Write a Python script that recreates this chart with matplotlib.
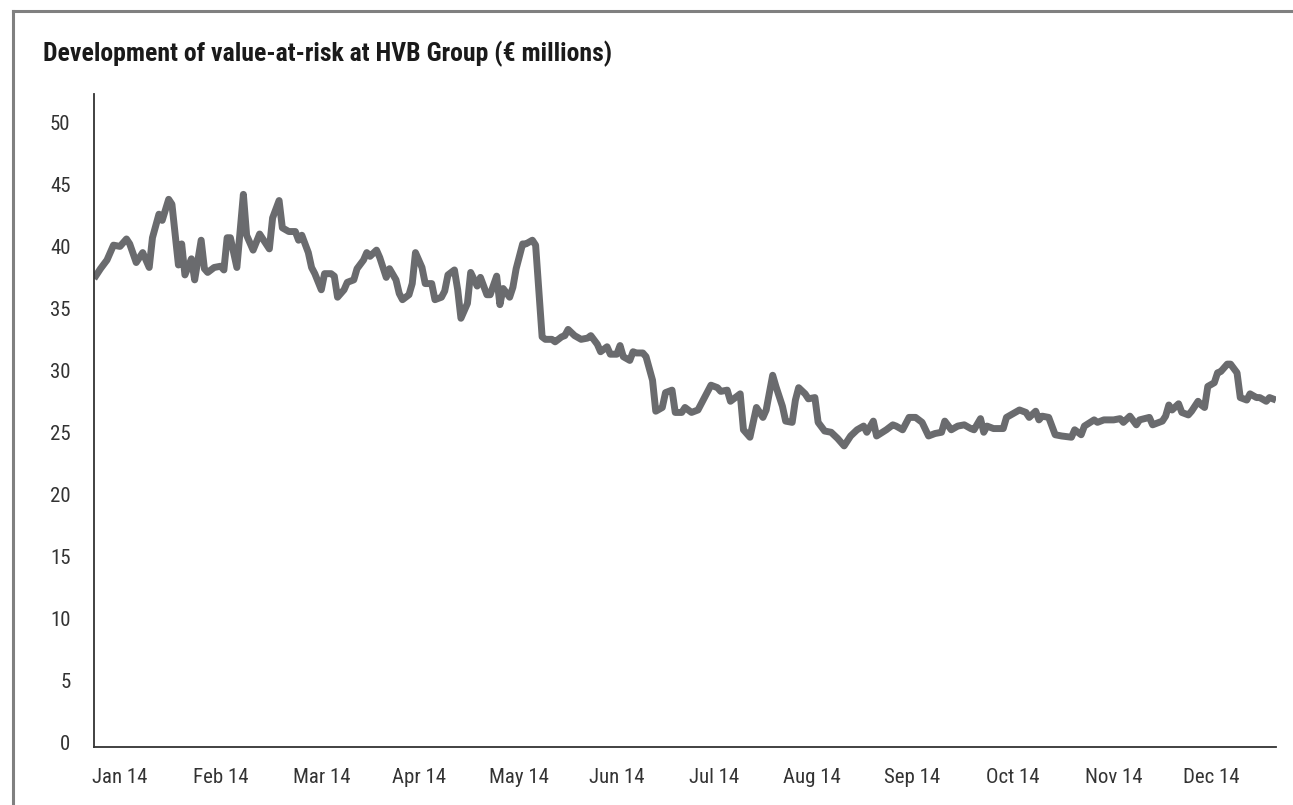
#!/usr/bin/env python3
# -*- coding: utf-8 -*-

"""
Value-at-risk development at HVB Group, 2014 (EUR millions)
"""

import matplotlib
matplotlib.use("Agg")
import matplotlib.pyplot as plt
from matplotlib.lines import Line2D
from matplotlib import font_manager

# calendar day of 2014 (0 = 2 Jan) for each reading
day = [0, 2, 4, 6, 8, 10, 11, 13, 15, 17, 18, 20, 21, 23, 24, 26, 27, 28, 30, 31,
       33, 34, 35, 37, 39, 40, 41, 42, 44, 46, 47, 49, 51, 54, 55, 57, 58, 60, 62, 63,
       64, 66, 67, 68, 70, 71, 73, 74, 75, 77, 78, 80, 81, 83, 84, 85, 87, 88, 90, 91,
       93, 94, 95, 97, 98, 99, 101, 102, 104, 105, 107, 108, 109, 111, 112, 113, 115, 116, 118, 119,
       121, 122, 124, 125, 126, 128, 129, 130, 132, 133, 135, 136, 138,
       139, 141, 142, 144, 145, 146, 148, 150, 152, 153, 155, 156, 158, 159, 161, 162, 163, 165, 166, 167,
       169, 170, 172, 173, 175, 176, 178, 179, 181, 182, 184, 186, 188, 190, 192, 193, 195, 196, 198, 199,
       200, 202, 204, 206, 207, 209, 210, 212, 213, 215, 216, 217, 219, 220, 222, 223, 225, 227, 229, 231,
       233, 235, 237, 238, 240, 241, 244, 246, 247, 249, 251, 253, 255, 257, 259, 261, 262, 264, 266, 268,
       270, 271, 273, 274, 275, 277, 280, 281, 283, 285,
       287, 288, 290, 291, 292, 294, 296, 298, 301, 302, 304, 305, 308, 309, 311, 314, 316, 317, 319, 321,
       322, 325, 326, 329, 330, 331, 332, 334, 335, 337, 338, 340, 341, 342, 343, 345, 346, 347, 349, 350,
       352, 353, 355, 356, 358, 359, 361, 362, 364]

# value-at-risk, EUR millions
var = [37.4, 38.2, 38.9, 40.1, 40.0, 40.6, 40.2, 38.7, 39.5, 38.3, 40.7, 42.6, 42.1, 43.8, 43.4, 38.5, 40.2, 37.7, 39.0, 37.3,
       40.5, 38.2, 37.9, 38.3, 38.4, 38.1, 40.7, 40.7, 38.3, 44.2, 40.9, 39.7, 41.0, 39.8, 42.3, 43.7, 41.5, 41.2, 41.2, 40.5,
       40.9, 39.5, 38.3, 37.8, 36.5, 37.8, 37.8, 37.6, 35.9, 36.5, 37.1, 37.3, 38.2, 38.9, 39.5, 39.2, 39.7, 39.1, 37.5, 38.2,
       37.3, 36.2, 35.7, 36.1, 37.0, 39.5, 38.3, 37.0, 37.0, 35.7, 35.9, 36.4, 37.7, 38.1, 36.5, 34.2, 35.4, 37.9, 36.8, 37.5,
       36.1, 36.1, 37.6, 35.3, 36.6, 35.9, 36.7, 38.2, 40.2, 40.2, 40.5, 40.1, 32.7,
       32.5, 32.5, 32.3, 32.7, 32.8, 33.3, 32.8, 32.5, 32.6, 32.8, 32.1, 31.5, 31.9, 31.3, 31.3, 32.0, 31.1, 30.8, 31.5, 31.4,
       31.4, 31.1, 29.2, 26.7, 27.0, 28.2, 28.4, 26.6, 26.6, 27.0, 26.6, 26.8, 27.8, 28.8, 28.6, 28.3, 28.4, 27.5, 27.9, 28.1,
       25.2, 24.6, 27.0, 26.2, 26.8, 29.6, 28.7, 27.1, 25.9, 25.8, 27.6, 28.6, 28.1, 27.7, 27.8, 25.8, 25.1, 25.0, 24.5, 23.9,
       24.7, 25.2, 25.5, 25.0, 25.9, 24.7, 25.2, 25.6, 25.5, 25.2, 26.2, 26.2, 25.8, 24.7, 24.9, 25.0, 25.9, 25.2, 25.5, 25.6,
       25.3, 25.2, 26.1, 25.0, 25.5, 25.3, 25.3, 26.2, 26.5, 26.8,
       26.6, 26.2, 26.7, 26.0, 26.3, 26.2, 24.8, 24.7, 24.6, 25.2, 24.8, 25.5, 26.0, 25.8, 26.0, 26.0, 26.1, 25.8, 26.3, 25.6,
       26.0, 26.2, 25.6, 25.9, 26.3, 27.2, 26.8, 27.3, 26.6, 26.4, 26.7, 27.5, 27.2, 27.0, 28.7, 29.0, 29.8, 29.9, 30.5, 30.5,
       29.8, 27.8, 27.6, 28.1, 27.8, 27.8, 27.5, 27.8, 27.6]

month_labels = ['Jan 14', 'Feb 14', 'Mar 14', 'Apr 14', 'May 14', 'Jun 14',
                'Jul 14', 'Aug 14', 'Sep 14', 'Oct 14', 'Nov 14', 'Dec 14']
month_days = [8, 39, 70, 100, 131, 161, 191, 221, 252, 283, 314, 344]
y_ticks = [0, 5, 10, 15, 20, 25, 30, 35, 40, 45, 50]

# the original uses a condensed grotesk, take the first one that also has a bold cut
candidates = ['Roboto Condensed', 'IBM Plex Sans Condensed', 'Fira Sans Condensed',
              'Archivo Narrow', 'Asap Condensed', 'Barlow Semi Condensed']
weights = {}
for f in font_manager.fontManager.ttflist:
    if f.style == 'normal':
        weights.setdefault(f.name, set()).add(f.weight)
family = ['DejaVu Sans']
for c in candidates:
    w = weights.get(c, set())
    if 400 in w and any(int(x) >= 700 for x in w):
        family = [c, 'DejaVu Sans']
        break
plt.rcParams['font.family'] = family

fig = plt.figure(figsize=(12.93, 8.05), dpi=100)
ax = fig.add_axes([94 / 1293, 58 / 805, 1182 / 1293, 653 / 805])

ax.plot(day, var, color='#6a6b6e', linewidth=5.0, solid_joinstyle='round', solid_capstyle='butt')

ax.set_xlim(0, 364)
ax.set_ylim(-0.4, 52.3)
ax.set_yticks(y_ticks)
ax.set_xticks(month_days)
ax.set_xticklabels(month_labels)
ax.tick_params(axis='both', length=0, labelsize=15, colors='#333333')
ax.tick_params(axis='y', pad=17)
ax.tick_params(axis='x', pad=15)

for s in ['top', 'right']:
    ax.spines[s].set_visible(False)
for s in ['left', 'bottom']:
    ax.spines[s].set_color('#333333')
    ax.spines[s].set_linewidth(1.3)

fig.text(43 / 1293, 1 - 61 / 805, 'Development of value-at-risk at HVB Group (\u20ac millions)',
         fontsize=18.5, fontweight='bold', color='#1a1a1a', va='baseline', ha='left')

# grey frame top and left
fig.add_artist(Line2D([13 / 1293, 1], [1 - 11 / 805, 1 - 11 / 805], color='#808080', linewidth=2.2,
                      transform=fig.transFigure))
fig.add_artist(Line2D([13 / 1293, 13 / 1293], [0, 1 - 11 / 805], color='#808080', linewidth=2.2,
                      transform=fig.transFigure))

fig.savefig('out.png', dpi=100)
